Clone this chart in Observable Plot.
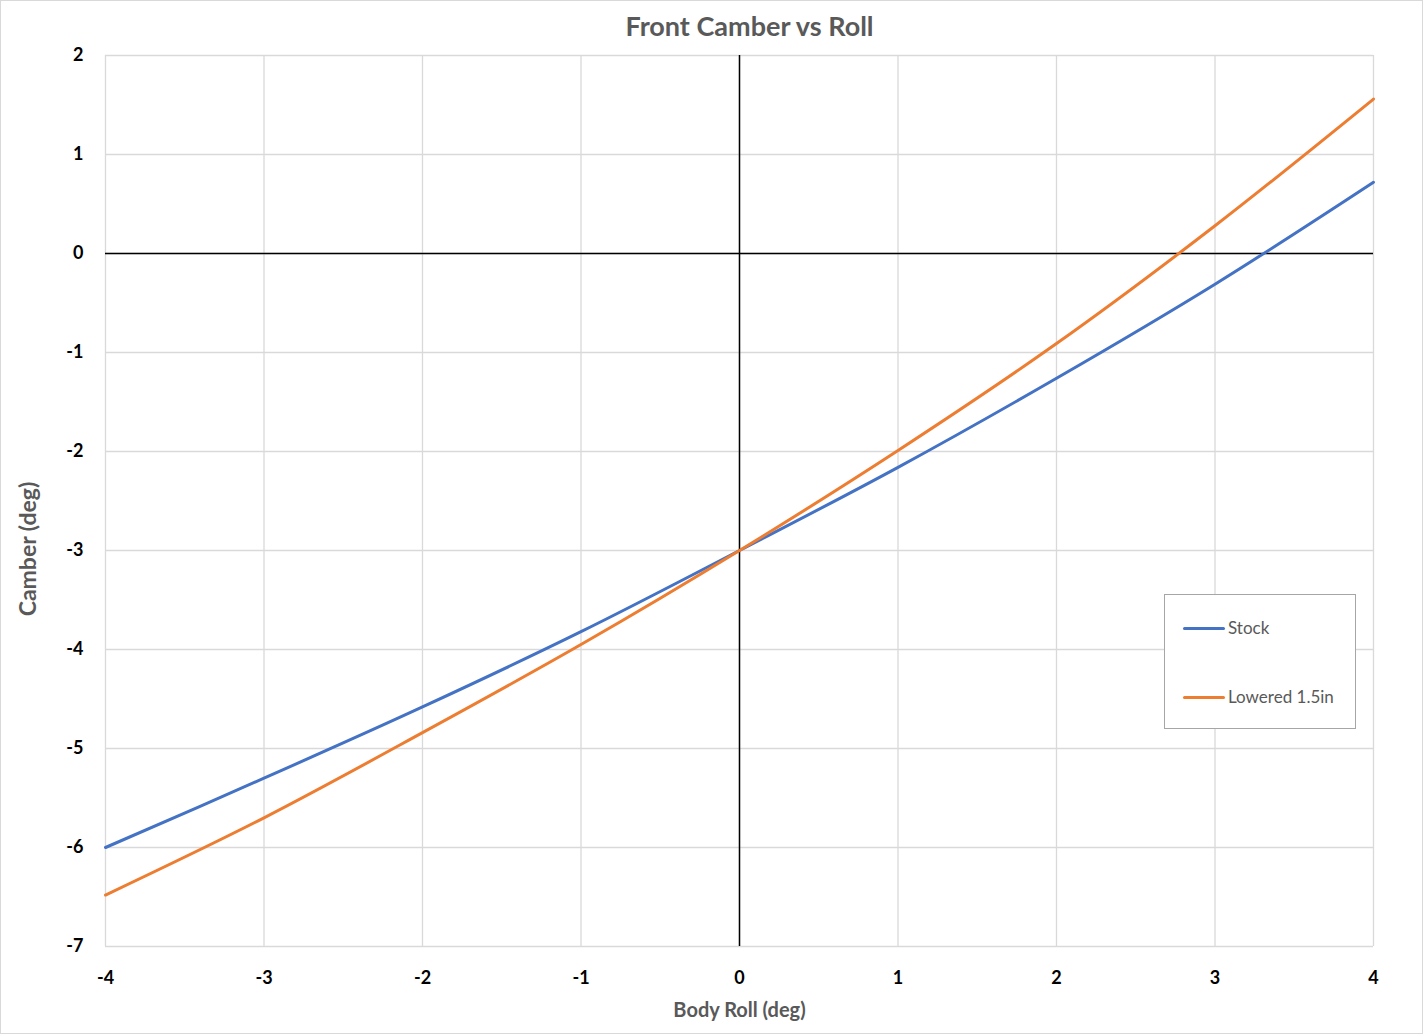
<!DOCTYPE html>
<html><head><meta charset="utf-8">
<script src="https://cdn.jsdelivr.net/npm/d3@7"></script>
<script src="https://cdn.jsdelivr.net/npm/@observablehq/plot@0.6"></script>
<style>
body{margin:0;background:#fff;}
#wrap{position:relative;width:1423px;height:1034px;overflow:hidden;font-family:Lato,"Open Sans",sans-serif;background:#fff;}
#wrap svg{position:absolute;left:0;top:0;}
#border{position:absolute;left:0;top:0;width:1423px;height:1034px;box-sizing:border-box;border:1px solid #d9d9d9;pointer-events:none;}
#legend{position:absolute;left:1164px;top:594px;width:192px;height:135px;box-sizing:border-box;border:1.5px solid #a6a6a6;background:#fff;}
.item{position:absolute;left:18px;display:flex;align-items:center;font-size:17px;color:#595959;line-height:22px;}
.swatch{width:42px;height:3px;border-radius:2px;margin-right:3px;}
</style></head><body><div id="wrap"><div id="legend"></div><div id="border"></div></div>
<script>
const roll = [-4, -3, -2, -1, 0, 1, 2, 3, 4];
const stock = [-6.00, -5.30, -4.58, -3.82, -3.00, -2.16, -1.26, -0.31, 0.72];
const lowered = [-6.48, -5.70, -4.84, -3.95, -3.00, -1.99, -0.91, 0.28, 1.56];
const seriesNames = ["Stock", "Lowered 1.5in"];
const seriesColors = ["#4472C4", "#ED7D31"];
const xTicks = [-4, -3, -2, -1, 0, 1, 2, 3, 4];
const yTicks = [-7, -6, -5, -4, -3, -2, -1, 0, 1, 2];
const titleText = "Front Camber vs Roll";
const xLabel = "Body Roll (deg)";
const yLabel = "Camber (deg)";

const data = [
  ...roll.map((r, i) => ({x: r, y: stock[i], s: seriesNames[0]})),
  ...roll.map((r, i) => ({x: r, y: lowered[i], s: seriesNames[1]}))
];
const font = "Lato, 'Open Sans', sans-serif";

const chart = Plot.plot({
  width: 1423, height: 1034,
  marginLeft: 105, marginRight: 50, marginTop: 55, marginBottom: 88,
  x: {domain: [-4, 4], label: null},
  y: {domain: [-7, 2], label: null},
  color: {domain: seriesNames, range: seriesColors},
  style: {fontFamily: font, fontSize: "18px", color: "#000", background: "transparent"},
  marks: [
    Plot.gridX(xTicks, {stroke: "#d9d9d9", strokeOpacity: 1, strokeWidth: 1.3}),
    Plot.gridY(yTicks, {stroke: "#d9d9d9", strokeOpacity: 1, strokeWidth: 1.3}),
    Plot.ruleX([0], {stroke: "#000", strokeWidth: 1.5}),
    Plot.ruleY([0], {stroke: "#000", strokeWidth: 1.5}),
    Plot.line(data, {x: "x", y: "y", z: "s", stroke: "s", strokeWidth: 3, curve: "catmull-rom"}),
    Plot.axisX(xTicks, {tickSize: 0, tickPadding: 25, tickFormat: d => String(d), fontWeight: "bold", fontSize: 18, fill: "#000", label: null}),
    Plot.axisY(yTicks, {tickSize: 0, tickPadding: 22, tickFormat: d => String(d), fontWeight: "bold", fontSize: 18, fill: "#000", label: null}),
    Plot.text([titleText], {frameAnchor: "top", lineAnchor: "middle", dy: -28, dx: 10, fontSize: 27, fontWeight: "bold", fill: "#595959"}),
    Plot.text([xLabel], {frameAnchor: "bottom", lineAnchor: "middle", dy: 64, fontSize: 20, fontWeight: "bold", fill: "#595959"}),
    Plot.text([yLabel], {frameAnchor: "left", textAnchor: "middle", lineAnchor: "middle", dx: -77, dy: 48, rotate: -90, fontSize: 23, fontWeight: "bold", fill: "#595959"})
  ]
});
const wrap = document.getElementById("wrap");
wrap.insertBefore(chart, wrap.firstChild);

const legend = document.getElementById("legend");
const tops = [33, 102];
seriesNames.forEach((n, i) => {
  const it = document.createElement("div");
  it.className = "item";
  it.style.top = (tops[i] - 11) + "px";
  const sw = document.createElement("div");
  sw.className = "swatch";
  sw.style.background = seriesColors[i];
  const tx = document.createElement("span");
  tx.textContent = n;
  it.appendChild(sw); it.appendChild(tx);
  legend.appendChild(it);
});
</script></body></html>
